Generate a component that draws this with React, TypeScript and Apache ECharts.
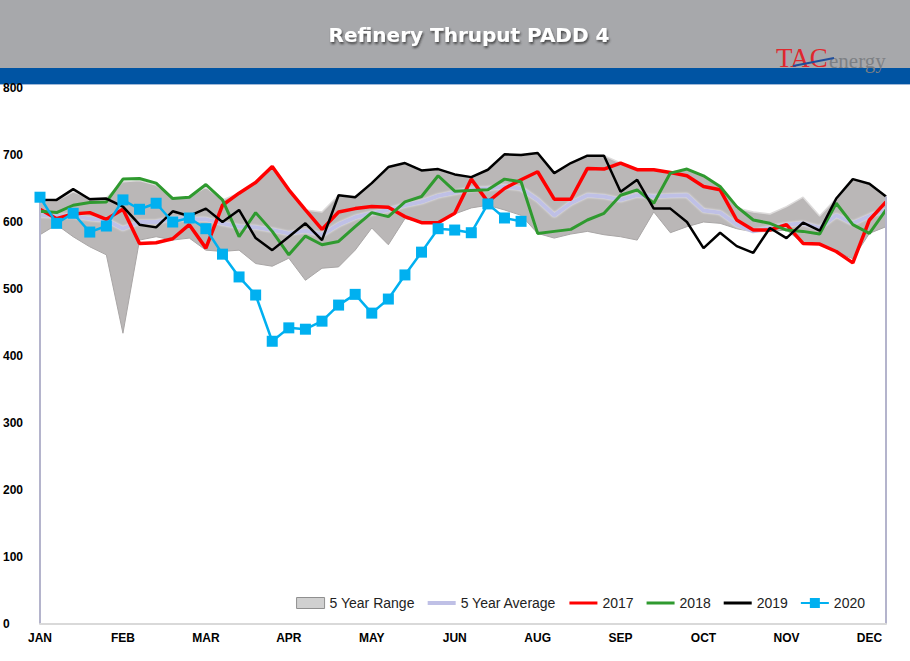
import React, { useEffect, useRef } from 'react';
import * as echarts from 'echarts';

// Week-of-year categories (month of each weekly observation)
const weekMonths = [
  'JAN', 'JAN', 'JAN', 'JAN', 'FEB', 'FEB', 'FEB', 'FEB', 'MAR', 'MAR',
  'MAR', 'MAR', 'MAR', 'APR', 'APR', 'APR', 'APR', 'MAY', 'MAY', 'MAY',
  'MAY', 'JUN', 'JUN', 'JUN', 'JUN', 'JUN', 'JUL', 'JUL', 'JUL', 'JUL',
  'AUG', 'AUG', 'AUG', 'AUG', 'SEP', 'SEP', 'SEP', 'SEP', 'SEP', 'OCT',
  'OCT', 'OCT', 'OCT', 'NOV', 'NOV', 'NOV', 'NOV', 'DEC', 'DEC', 'DEC',
  'DEC', 'DEC',
];

const rangeMax = [
  630, 632, 645, 636, 636, 660, 662, 655, 636, 637,
  652, 633, 643, 659, 683, 648, 618, 615, 640, 637,
  658, 682, 688, 677, 679, 671, 667, 678, 700, 700,
  703, 673, 688, 699, 699, 688, 678, 678, 674, 679,
  669, 653, 621, 615, 612, 623, 637, 609, 635, 664,
  657, 638,
];

const rangeMin = [
  581, 596, 578, 563, 551, 434, 573, 578, 573, 576,
  558, 556, 558, 538, 534, 546, 513, 531, 533, 558,
  591, 566, 605, 600, 600, 612, 621, 625, 618, 610,
  583, 576, 582, 586, 581, 578, 573, 615, 584, 593,
  600, 598, 590, 585, 586, 588, 568, 567, 556, 545,
  583, 593,
];

const avg5y = [
  610, 609, 609, 605, 603, 590, 600, 600, 605, 604,
  604, 598, 593, 592, 588, 583, 587, 581, 596, 607,
  613, 618, 625, 630, 639, 644, 649, 650, 653, 650,
  633, 610, 628, 640, 638, 633, 640, 638, 639, 640,
  617, 614, 596, 586, 591, 596, 598, 591, 610, 598,
  609, 618,
];

const y2017 = [
  619, 605, 612, 614, 604, 619, 568, 569, 575, 596,
  561, 625, 643, 659, 683, 648, 618, 589, 615, 620,
  623, 622, 608, 599, 599, 613, 664, 630, 650, 663,
  675, 634, 634, 680, 679, 688, 678, 678, 674, 669,
  653, 648, 603, 588, 588, 596, 568, 567, 556, 539,
  603, 630,
];

const y2018 = [
  616, 614, 625, 629, 630, 664, 665, 658, 635, 637,
  656, 633, 578, 614, 586, 551, 579, 566, 571, 593,
  614, 608, 630, 638, 669, 646, 647, 648, 664, 660,
  583, 586, 589, 603, 613, 640, 648, 628, 673, 679,
  669, 653, 623, 603, 598, 588, 586, 582, 628, 596,
  583, 618,
];

const y2019 = [
  633, 633, 649, 634, 635, 623, 596, 592, 616, 609,
  620, 600, 618, 576, 558, 578, 598, 573, 640, 637,
  658, 682, 688, 677, 679, 671, 667, 678, 701, 700,
  703, 673, 688, 699, 699, 645, 663, 620, 620, 600,
  561, 584, 564, 554, 591, 576, 599, 587, 635, 664,
  657, 638,
];

const y2020 = [
  637, 598, 613, 585, 594, 633, 619, 628, 600, 606,
  590, 552, 518, 491, 422, 442, 440, 452, 476, 492,
  464, 485, 521, 555, 590, 588, 584, 627, 606, 601,
];

const legendNames = ['5 Year Range', '5 Year Average', '2017', '2018', '2019', '2020'];
const Y_MIN = 0;
const Y_MAX = 800;
const Y_STEP = 100;

// legend glyphs: a horizontal stroke (bounding box kept with tiny corner dots)
const LINE_ICON = 'path://M0,0h0.05v0.05h-0.05zM0,4h28v3h-28zM27.95,10.95h0.05v0.05h-0.05z';
const THICK_LINE_ICON = 'path://M0,0h0.05v0.05h-0.05zM0,3.5h28v4h-28zM27.95,10.95h0.05v0.05h-0.05z';
const MARKER_LINE_ICON = 'path://M0,0h0.05v0.05h-0.05zM0,4.5h28v2h-28zM9,0.5h10v10h-10zM27.95,10.95h0.05v0.05h-0.05z';

export default function App() {
  const ref = useRef<HTMLDivElement>(null);

  useEffect(() => {
    document.body.style.margin = '0';
    const chart = echarts.init(ref.current as HTMLDivElement, null, { renderer: 'svg' });
    const last = weekMonths.length - 1;
    const avgColor = '#bfc0e6';
    const option: any = {
      animation: false,
      backgroundColor: '#ffffff',
      textStyle: { fontFamily: 'Liberation Sans, Arial, sans-serif' },
      graphic: [
        { type: 'rect', z: 0, shape: { x: 0, y: 0, width: 910, height: 68 }, style: { fill: '#a7a8ab' } },
        { type: 'rect', z: 0, shape: { x: 0, y: 68, width: 910, height: 16 }, style: { fill: '#0054a3' } },
        { type: 'line', z: 1, shape: { x1: 0, y1: 84.5, x2: 910, y2: 84.5 }, style: { stroke: '#9fb8d8', lineWidth: 1 } },
        {
          type: 'text', z: 2, x: 469, y: 35,
          style: {
            text: 'Refinery Thruput PADD 4', fill: '#ffffff',
            font: 'bold 20px "DejaVu Sans", sans-serif',
            textAlign: 'center', textVerticalAlign: 'middle',
            textShadowColor: 'rgba(40,40,40,0.75)', textShadowBlur: 2,
            textShadowOffsetX: 1, textShadowOffsetY: 2,
          },
        },
        {
          type: 'text', z: 2, x: 776, y: 71,
          style: {
            text: 'TAC', fill: '#e0282e',
            font: '27px "Liberation Serif", serif',
            textAlign: 'left', textVerticalAlign: 'bottom',
          },
        },
        {
          type: 'text', z: 2, x: 829, y: 71,
          style: {
            text: 'energy', fill: '#7d8084',
            font: '21px "Liberation Serif", serif',
            textAlign: 'left', textVerticalAlign: 'bottom',
          },
        },
        {
          type: 'line', z: 3, shape: { x1: 793, y1: 66, x2: 834, y2: 58 },
          style: { stroke: '#1f4e9c', lineWidth: 2 },
        },
      ],
      grid: { left: 40, right: 24, top: 88, bottom: 37, containLabel: false },
      legend: {
        right: 40,
        top: 591,
        itemWidth: 28,
        itemHeight: 11,
        itemGap: 13,
        textStyle: { fontSize: 14, color: '#222', fontFamily: 'Liberation Sans, Arial, sans-serif' },
        data: [
          { name: legendNames[0], icon: 'rect', itemStyle: { color: '#d0d0d0', borderColor: '#8f8f8f', borderWidth: 1 } },
          { name: legendNames[1], icon: THICK_LINE_ICON },
          { name: legendNames[2], icon: LINE_ICON },
          { name: legendNames[3], icon: LINE_ICON },
          { name: legendNames[4], icon: LINE_ICON },
          { name: legendNames[5], icon: MARKER_LINE_ICON },
        ],
      },
      xAxis: {
        type: 'category',
        data: weekMonths,
        boundaryGap: false,
        z: 10,
        axisLine: { show: true, lineStyle: { color: '#d9d9d9', width: 2 } },
        axisTick: { show: false },
        axisLabel: {
          interval: 4,
          margin: 8,
          fontSize: 12,
          fontWeight: 'bold',
          color: '#000',
          fontFamily: 'Liberation Sans, Arial, sans-serif',
        },
        splitLine: { show: false },
      },
      yAxis: {
        type: 'value',
        min: Y_MIN,
        max: Y_MAX,
        interval: Y_STEP,
        z: 10,
        axisLine: { show: false },
        axisTick: { show: false },
        splitLine: { show: false },
        axisLabel: {
          align: 'left',
          margin: 37,
          fontSize: 12,
          fontWeight: 'bold',
          color: '#000',
          fontFamily: 'Liberation Sans, Arial, sans-serif',
        },
      },
      series: [
        {
          name: legendNames[0],
          type: 'line',
          data: rangeMax,
          symbol: 'none',
          z: 1,
          lineStyle: { width: 1.5, color: '#dddbdb' },
          itemStyle: { color: '#bab7b7' },
          areaStyle: { color: '#bab7b7', opacity: 1 },
        },
        {
          name: 'rangeLowerMask',
          type: 'line',
          data: rangeMin,
          symbol: 'none',
          z: 1,
          lineStyle: { width: 1, color: '#a9a6a6' },
          itemStyle: { color: '#ffffff' },
          areaStyle: { color: '#ffffff', opacity: 1 },
          markLine: {
            silent: true,
            symbol: 'none',
            label: { show: false },
            lineStyle: { color: '#b4b4cc', width: 2, type: 'solid' },
            data: [
              [{ coord: [0, Y_MIN] }, { coord: [0, rangeMax[0]] }],
              [{ coord: [last, Y_MIN] }, { coord: [last, rangeMax[last]] }],
            ],
          },
        },
        {
          name: legendNames[1],
          type: 'line',
          data: avg5y,
          symbol: 'none',
          z: 3,
          lineStyle: { width: 4, color: avgColor, shadowColor: 'rgba(255,255,255,0.8)', shadowBlur: 2 },
          itemStyle: { color: avgColor },
        },
        {
          name: legendNames[2],
          type: 'line',
          data: y2017,
          symbol: 'none',
          z: 4,
          lineStyle: { width: 3.5, color: '#ff0000' },
          itemStyle: { color: '#ff0000' },
        },
        {
          name: legendNames[3],
          type: 'line',
          data: y2018,
          symbol: 'none',
          z: 4,
          lineStyle: { width: 3, color: '#2f9a2f' },
          itemStyle: { color: '#2f9a2f' },
        },
        {
          name: legendNames[4],
          type: 'line',
          data: y2019,
          symbol: 'none',
          z: 4,
          lineStyle: { width: 2.5, color: '#000000' },
          itemStyle: { color: '#000000' },
        },
        {
          name: legendNames[5],
          type: 'line',
          data: y2020,
          symbol: 'rect',
          symbolSize: 11,
          showAllSymbol: true,
          z: 5,
          lineStyle: { width: 2.5, color: '#00b0f0' },
          itemStyle: { color: '#00b0f0' },
        },
      ],
    };
    chart.setOption(option);
    return () => chart.dispose();
  }, []);

  return (
    <div
      ref={ref}
      style={{ position: 'absolute', left: 0, top: 0, width: 910, height: 661 }}
    />
  );
}
